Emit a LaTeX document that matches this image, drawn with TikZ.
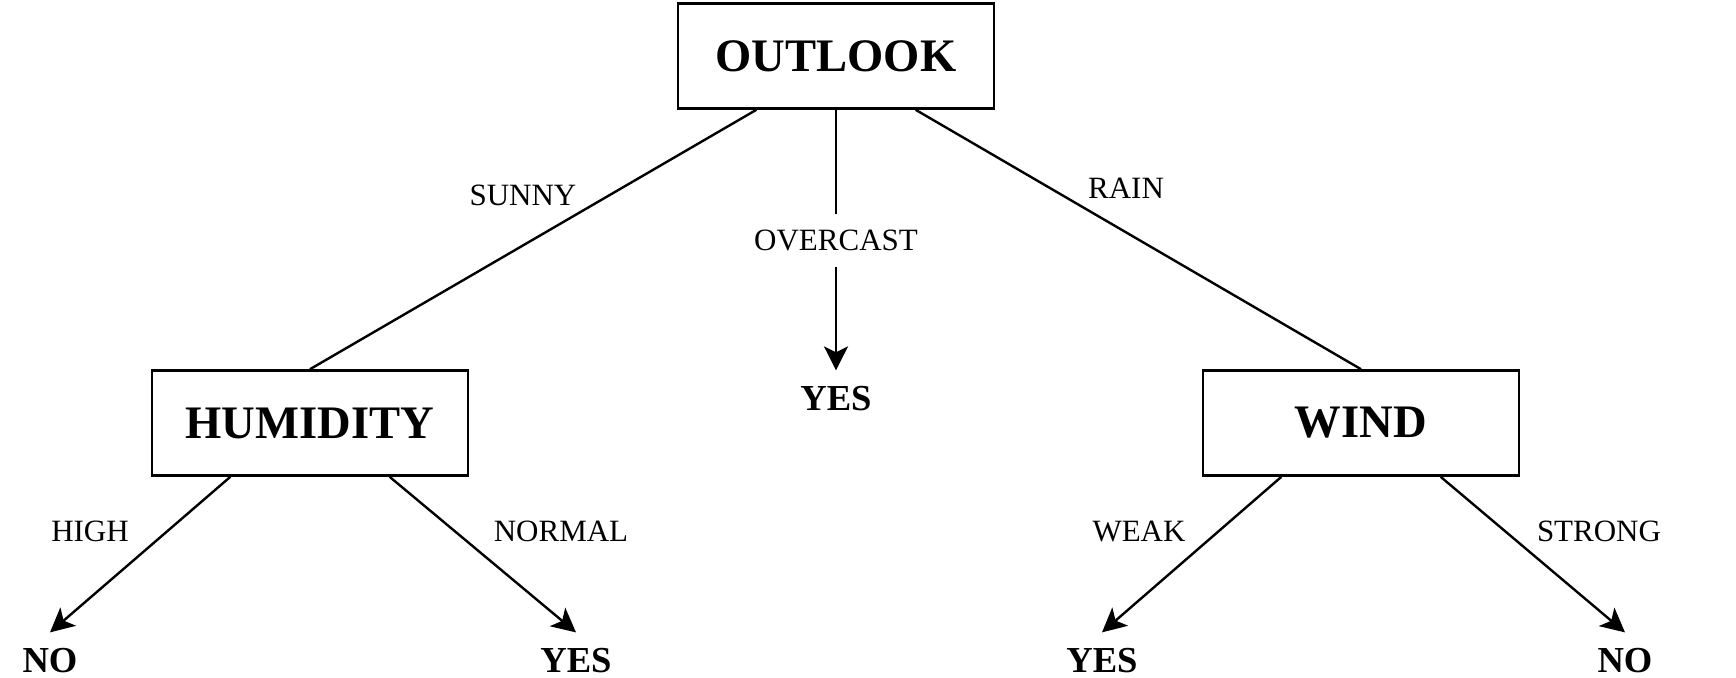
\documentclass[tikz,border=0pt]{standalone}
\usepackage{fontspec}
\setmainfont{Liberation Serif}
\usetikzlibrary{arrows.meta,calc}

\begin{document}
\begin{tikzpicture}[
        x=0.5pt, y=-0.5pt,
        attr/.style={draw, rectangle, line width=1.3pt, align=center, minimum width=158pt, minimum height=52.5pt, font=\fontsize{23.3}{28}\selectfont\bfseries},
        leaf/.style={anchor=base, inner ysep=7.5pt, font=\fontsize{18.3}{22}\selectfont\bfseries},
        lbl/.style={font=\fontsize{15.5}{19}\selectfont},
        branch/.style={line width=1.2pt},
        arc/.style={-{Stealth[length=12pt,width=12pt,inset=3pt]}, line width=1.2pt}
    ]
        \useasboundingbox (0,0) rectangle (1736,677);

        \node[attr] (outlook) at (836,56) {OUTLOOK};
        \node[attr] (humidity) at (310,423) {HUMIDITY};
        \node[attr] (wind) at (1361,423) {WIND};

        \node[leaf] (yesmid) at (836,410) {YES};
        \node[leaf] (nohum) at (50,672) {NO};
        \node[leaf] (yeshum) at (576,672) {YES};
        \node[leaf] (yeswind) at (1102,672) {YES};
        \node[leaf] (nowind) at (1625,672) {NO};

        \draw[branch] ($(outlook.south west)!.25!(outlook.south east)$) -- (humidity.north);
        \draw[arc] (outlook.south) -- node[lbl, fill=white, inner ysep=8pt] (overcast) {OVERCAST} (yesmid.north);
        \draw[branch] ($(outlook.south west)!.75!(outlook.south east)$) -- (wind.north);

        \node[lbl] (sunny) at (523,195) {SUNNY};
        \node[lbl] (rain) at (1126,188) {RAIN};

        \draw[arc] ($(humidity.south west)!.25!(humidity.south east)$) -- (nohum.north);
        \draw[arc] ($(humidity.south west)!.75!(humidity.south east)$) -- (yeshum.north);
        \draw[arc] ($(wind.south west)!.25!(wind.south east)$) -- (yeswind.north);
        \draw[arc] ($(wind.south west)!.75!(wind.south east)$) -- (nowind.north);

        \node[lbl] (high) at (90,531) {HIGH};
        \node[lbl] (normal) at (561,531) {NORMAL};
        \node[lbl] (weak) at (1139,531) {WEAK};
        \node[lbl] (strong) at (1599,531) {STRONG};
    \end{tikzpicture}
\end{document}
